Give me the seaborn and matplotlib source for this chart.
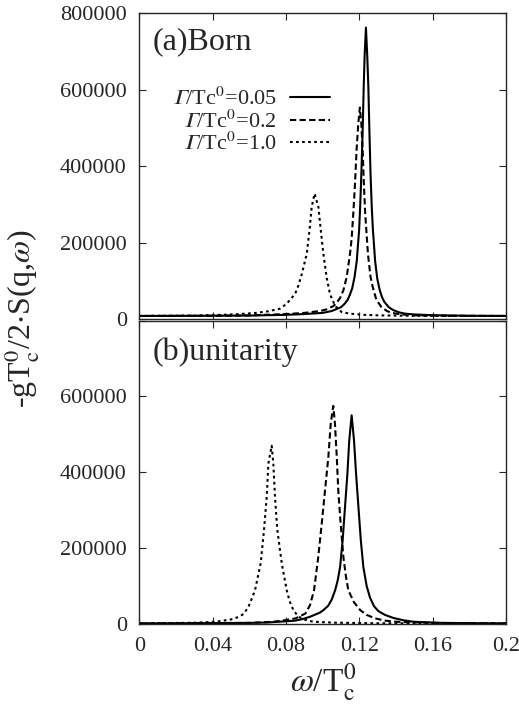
import matplotlib
matplotlib.use("Agg")
import matplotlib.pyplot as plt
import seaborn as sns

# values
# (a) Born
omega_born_005 = [0.0, 0.04, 0.06, 0.08, 0.09, 0.1, 0.105, 0.11, 0.112, 0.1136, 0.1148, 0.1161,
                  0.1174, 0.1186, 0.1199, 0.1205, 0.1211, 0.1218, 0.1224, 0.1229, 0.1236, 0.1243,
                  0.1249, 0.1255, 0.1261, 0.1268, 0.1274, 0.1286, 0.1298, 0.1311, 0.1323, 0.1336,
                  0.136, 0.1386, 0.142, 0.145, 0.15, 0.16, 0.18, 0.2]
s_born_005 = [8000, 8500, 9000, 11000, 13000, 16000, 21000, 31000, 40000, 50000, 63000, 80000,
              110000, 152000, 234000, 300000, 380000, 490000, 610000, 690000, 762000, 690000,
              610000, 490000, 380000, 290000, 234000, 152000, 105000, 76000, 58000, 45000,
              31000, 23000, 17000, 14000, 12000, 10000, 8500, 8000]

omega_born_02 = [0.0, 0.04, 0.06, 0.08, 0.09, 0.0987, 0.102, 0.1059, 0.1077, 0.1095, 0.1113,
                 0.1131, 0.1149, 0.1158, 0.1167, 0.1176, 0.1185, 0.1194, 0.1203, 0.1211, 0.1218,
                 0.1225, 0.1232, 0.1247, 0.1261, 0.1275, 0.129, 0.1305, 0.1319, 0.135, 0.1377,
                 0.143, 0.1493, 0.17, 0.2]
s_born_02 = [8000, 8500, 9500, 13000, 16000, 21000, 25000, 34000, 43000, 55000, 75000,
             110000, 170000, 210000, 276000, 350000, 442000, 510000, 553000, 510000, 442000,
             350000, 276000, 170000, 110000, 80000, 55000, 42000, 32000, 21000, 16000,
             12000, 9500, 8500, 8000]

omega_born_10 = [0.0, 0.03, 0.045, 0.055, 0.0635, 0.07, 0.0767, 0.0804, 0.0825, 0.0849, 0.0868,
                 0.0886, 0.0913, 0.0928, 0.094, 0.0956, 0.0977, 0.099, 0.1004, 0.1022, 0.104,
                 0.1068, 0.1104, 0.115, 0.122, 0.131, 0.148, 0.17, 0.2]
s_born_10 = [8000, 9000, 11000, 13000, 16000, 20000, 27000, 40000, 52000, 65000, 88000,
             117000, 170000, 231000, 292000, 328000, 292000, 231000, 170000, 108000, 65000,
             34000, 18000, 14000, 11000, 9500, 8500, 8000, 8000]

# (b) unitarity
omega_uni_005 = [0.0, 0.06, 0.07, 0.085, 0.089, 0.093, 0.0985, 0.1005, 0.103, 0.105, 0.1068,
                 0.1082, 0.1095, 0.1109, 0.1122, 0.1135, 0.1145, 0.1158, 0.1171, 0.1182, 0.1195,
                 0.1208, 0.1222, 0.124, 0.1258, 0.128, 0.1304, 0.134, 0.1386, 0.144, 0.1495,
                 0.165, 0.2]
s_uni_005 = [1500, 3000, 4000, 9000, 13000, 19000, 30000, 37000, 48000, 65000, 89000,
             115000, 150000, 221000, 309000, 397000, 484000, 550000, 484000, 397000, 309000,
             221000, 150000, 100000, 70000, 47000, 34000, 24000, 16000, 10000, 6000,
             3000, 1500]

omega_uni_02 = [0.0, 0.06, 0.073, 0.078, 0.0853, 0.0907, 0.0931, 0.0953, 0.0976, 0.0995, 0.1013,
                0.1031, 0.1044, 0.1058, 0.1067, 0.1077, 0.1085, 0.1098, 0.1113, 0.1127, 0.114,
                0.117, 0.1204, 0.124, 0.1286, 0.134, 0.14, 0.16, 0.2]
s_uni_02 = [1500, 3000, 6000, 9000, 15000, 28000, 50000, 89000, 177000, 265000, 353000,
            440000, 528000, 575000, 528000, 440000, 353000, 265000, 177000, 125000, 89000,
            58000, 37000, 24000, 15000, 9000, 6000, 3000, 1500]

omega_uni_10 = [0.0, 0.031, 0.0417, 0.05, 0.0544, 0.057, 0.0595, 0.0612, 0.0631, 0.0662, 0.068,
                0.0695, 0.0704, 0.0722, 0.0731, 0.074, 0.0753, 0.0777, 0.0804, 0.082, 0.084,
                0.086, 0.0886, 0.092, 0.095, 0.107, 0.13, 0.2]
s_uni_10 = [1500, 3500, 6000, 12000, 19000, 27000, 45000, 65000, 89000, 160000, 247000,
            335000, 423000, 470000, 423000, 335000, 247000, 160000, 89000, 60000, 37000,
            24000, 14000, 9000, 6000, 3500, 2000, 1500]

GAMMA = "\U0001D6E4"  # mathematical italic capital gamma
legend_labels = [r"$\mathrm{" + GAMMA + r"}$/Tc$^0$=0.05",
                 r"$\mathrm{" + GAMMA + r"}$/Tc$^0$=0.2",
                 r"$\mathrm{" + GAMMA + r"}$/Tc$^0$=1.0"]
x_ticks = [0, 0.04, 0.08, 0.12, 0.16, 0.2]
x_tick_labels = ["0", "0.04", "0.08", "0.12", "0.16", "0.2"]
y_ticks = [0, 200000, 400000, 600000, 800000]
y_tick_labels_top = ["0", "200000", "400000", "600000", "800000"]
y_tick_labels_bottom = ["0", "200000", "400000", "600000", ""]

sns.set_style("ticks")
plt.rcParams["font.family"] = ["Liberation Serif", "DejaVu Serif"]
plt.rcParams["mathtext.fontset"] = "stix"

styles = ["-", (0, (3, 1.6)), (0, (1.3, 1.6))]
LW = 1.5

fig = plt.figure(figsize=(5.19, 7.08), dpi=100)
ax1 = fig.add_axes([0.2684, 0.5494, 0.7066, 0.4322])
ax2 = fig.add_axes([0.2684, 0.1186, 0.7066, 0.4287])

born = [(omega_born_005, s_born_005), (omega_born_02, s_born_02), (omega_born_10, s_born_10)]
uni = [(omega_uni_005, s_uni_005), (omega_uni_02, s_uni_02), (omega_uni_10, s_uni_10)]

for (x, y), ls, lab in zip(born, styles, legend_labels):
    sns.lineplot(x=x, y=y, ax=ax1, color="black", linestyle=ls, linewidth=LW, label=lab)
for (x, y), ls in zip(uni, styles):
    sns.lineplot(x=x, y=y, ax=ax2, color="black", linestyle=ls, linewidth=LW)

for ax, ylabels in [(ax1, y_tick_labels_top), (ax2, y_tick_labels_bottom)]:
    ax.set_xlim(0, 0.2)
    ax.set_ylim(0, 800000)
    ax.set_xticks(x_ticks)
    ax.set_yticks(y_ticks)
    ax.set_yticklabels(ylabels)
    ax.tick_params(direction="in", top=True, right=True, length=5, width=0.8,
                   labelsize=16, pad=9)
    for sp in ax.spines.values():
        sp.set_linewidth(1.0)
    ax.set_xlabel("")
    ax.set_ylabel("")

ax1.set_xticklabels([])
ax2.set_xticklabels(x_tick_labels)

ax1.text(0.035, 0.955, "(a)Born", transform=ax1.transAxes, fontsize=23, va="top", ha="left")
ax2.text(0.035, 0.945, "(b)unitarity", transform=ax2.transAxes, fontsize=23, va="top", ha="left")

ax1.legend(loc="upper right", bbox_to_anchor=(0.52, 0.755), frameon=False, markerfirst=False,
           fontsize=16, handlelength=1.8, handletextpad=0.6, labelspacing=0.0, borderpad=0,
           borderaxespad=0)

ax2.set_xlabel(r"$\omega$/T$_\mathrm{c}^0$", fontsize=24, labelpad=4)
fig.text(0.042, 0.55, r"-gT$_\mathrm{c}^0$/2$\cdot$S(q,$\omega$)", rotation=90, fontsize=23,
         va="center", ha="center")

fig.savefig("out.png", dpi=100)
